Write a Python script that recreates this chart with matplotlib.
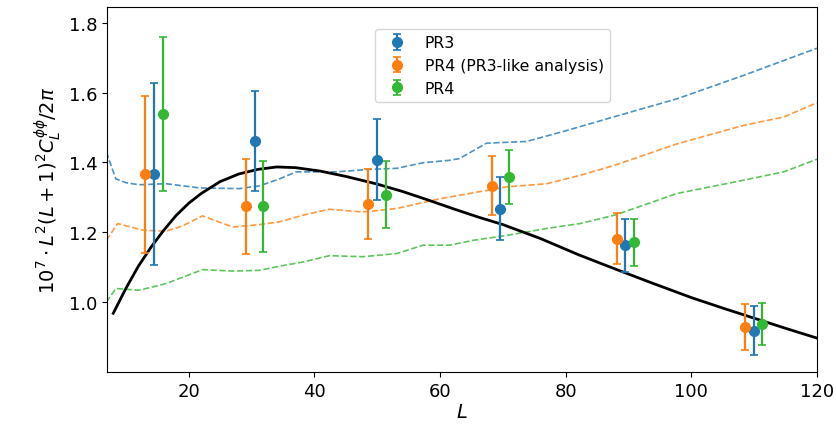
import matplotlib
matplotlib.use("Agg")
import matplotlib.pyplot as plt

# Band-power bin centres and offsets per data release
bin_centres = [14.5, 30.5, 50.0, 69.6, 89.5, 109.9]
offset = 1.4

pr3_vals = [1.366, 1.462, 1.408, 1.268, 1.163, 0.918]
pr3_errs = [0.260, 0.143, 0.117, 0.091, 0.076, 0.070]

pr4_like_vals = [1.366, 1.275, 1.280, 1.333, 1.182, 0.929]
pr4_like_errs = [0.225, 0.136, 0.100, 0.084, 0.072, 0.067]

pr4_vals = [1.538, 1.274, 1.308, 1.358, 1.171, 0.937]
pr4_errs = [0.220, 0.130, 0.097, 0.078, 0.067, 0.061]

# Fiducial lensing potential spectrum
theory_L = [8, 10, 12, 14, 16, 18, 20, 22, 25, 28, 31, 34, 37, 41, 45, 50,
            54, 58, 62, 66, 70, 76, 82, 88, 94, 100, 105, 110, 115, 120]
theory_vals = [0.968, 1.039, 1.103, 1.157, 1.205, 1.248, 1.283, 1.311, 1.345,
               1.367, 1.380, 1.387, 1.385, 1.375, 1.360, 1.338, 1.317, 1.293,
               1.268, 1.244, 1.222, 1.182, 1.136, 1.094, 1.053, 1.013, 0.983,
               0.954, 0.925, 0.897]

# Reconstruction noise levels
pr3_noise_L = [6.9, 8.4, 10, 12.1, 16.4, 21.7, 28.1, 31.3, 34.5, 37.1, 43.5,
               48.8, 53.1, 57.3, 61.5, 63.1, 67.4, 73.8, 80.1, 87, 97.7, 108.3, 120]
pr3_noise = [1.430, 1.353, 1.342, 1.336, 1.339, 1.327, 1.325, 1.333, 1.353,
             1.373, 1.373, 1.380, 1.383, 1.399, 1.406, 1.411, 1.455, 1.460,
             1.491, 1.527, 1.582, 1.649, 1.727]

pr4_like_noise_L = [6.9, 8.7, 12.7, 16.4, 19, 22.2, 27, 31.3, 34.5, 38.2, 42.4,
                    47.7, 53.1, 60, 65.3, 70.6, 77, 82.3, 88, 97.7, 108.3,
                    114.7, 120]
pr4_like_noise = [1.177, 1.225, 1.206, 1.203, 1.218, 1.247, 1.215, 1.222,
                  1.230, 1.249, 1.266, 1.258, 1.268, 1.296, 1.313, 1.330,
                  1.339, 1.363, 1.393, 1.453, 1.506, 1.530, 1.571]

pr4_noise_L = [6.9, 8.4, 12.1, 16.4, 22.2, 27, 31.3, 34.5, 38.2, 42.4, 47.7,
               53.1, 57.3, 61.5, 65.3, 70.6, 77, 82.3, 88, 97.7, 108.3, 114.7, 120]
pr4_noise = [1.000, 1.039, 1.034, 1.053, 1.093, 1.089, 1.091, 1.103, 1.115,
             1.133, 1.130, 1.139, 1.163, 1.163, 1.177, 1.191, 1.211, 1.225,
             1.250, 1.311, 1.349, 1.373, 1.409]

c_blue, c_orange, c_green = "#1f77b4", "#ff7f0e", "#33b833"

fig = plt.figure(figsize=(8.37, 4.27), dpi=100)
ax = fig.add_axes([0.1278, 0.1265, 0.8483, 0.8548])

ax.plot(pr3_noise_L, pr3_noise, ls="--", color=c_blue, lw=1.2, alpha=0.8)
ax.plot(pr4_like_noise_L, pr4_like_noise, ls="--", color=c_orange, lw=1.2, alpha=0.8)
ax.plot(pr4_noise_L, pr4_noise, ls="--", color=c_green, lw=1.2, alpha=0.8)

ax.plot(theory_L, theory_vals, color="black", lw=2)

eb_kw = dict(fmt="o", ms=7, capsize=3, elinewidth=1.6, capthick=1.2)
ax.errorbar(bin_centres, pr3_vals, yerr=pr3_errs, color=c_blue,
            label="PR3", **eb_kw)
ax.errorbar([c - offset for c in bin_centres], pr4_like_vals, yerr=pr4_like_errs,
            color=c_orange, label="PR4 (PR3-like analysis)", **eb_kw)
ax.errorbar([c + offset for c in bin_centres], pr4_vals, yerr=pr4_errs,
            color=c_green, label="PR4", **eb_kw)

ax.set_xlim(7, 120)
ax.set_ylim(0.80, 1.845)
ax.set_xticks([20, 40, 60, 80, 100, 120])
ax.set_yticks([1.0, 1.2, 1.4, 1.6, 1.8])
ax.tick_params(labelsize=13)
ax.set_xlabel(r"$L$", fontsize=14, labelpad=2)
ax.set_ylabel(r"$10^7\cdot L^2(L+1)^2C_L^{\phi\phi}/2\pi$", fontsize=14)

ax.legend(loc="upper left", bbox_to_anchor=(0.377, 0.94), borderaxespad=0,
          fontsize=11.3, framealpha=0.8)

fig.savefig("out.png", dpi=100)
